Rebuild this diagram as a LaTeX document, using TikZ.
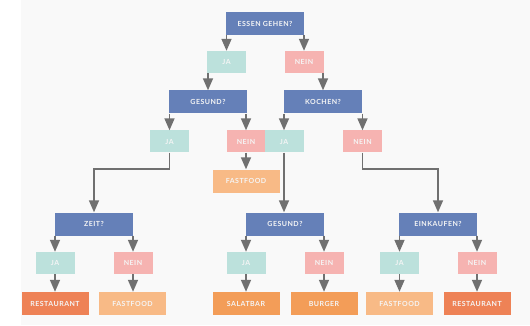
\documentclass[tikz,border=0pt]{standalone}
\usepackage{fontspec}
\newfontfamily\boxfont[LetterSpace=7]{Lato}
\usetikzlibrary{arrows.meta}
\usepackage{xcolor}

\definecolor{askblue}{HTML}{6580B8}
\definecolor{yesteal}{HTML}{BCE1DC}
\definecolor{nopink}{HTML}{F6B3B1}
\definecolor{ffpeach}{HTML}{F8BA86}
\definecolor{eatorange}{HTML}{F39D58}
\definecolor{restred}{HTML}{EE8256}
\definecolor{arrgray}{HTML}{707070}
\definecolor{bggray}{HTML}{F9F9F9}

\begin{document}
\begin{tikzpicture}[x=1pt,y=-1pt,
  every node/.style={inner sep=0pt,text=white!92!gray,font=\boxfont\bfseries\fontsize{7}{8}\selectfont},
  ask/.style={fill=askblue,minimum width=78pt,minimum height=23pt},
  yes/.style={fill=yesteal,minimum width=39pt,minimum height=22pt},
  no/.style={fill=nopink,minimum width=39pt,minimum height=22pt},
  goal/.style={minimum width=67pt,minimum height=23pt},
  arr/.style={draw=arrgray,line width=1.6pt,-{Triangle[width=10pt,length=12pt]}}]

% Canvas and background
\useasboundingbox (0,0) rectangle (530,326);
\fill[bggray] (21,0) rectangle (530,325);

% Level 1: root question
\node[ask] (essen) at (265,23.5) {ESSEN GEHEN?};
\node[yes] (ja1)  at (226.5,62) {JA};
\node[no]  (nein1) at (304,62) {NEIN};

% Level 2: follow-up questions
\node[ask] (gesund) at (208,102) {GESUND?};
\node[ask] (kochen) at (323,102) {KOCHEN?};
\node[yes] (ja2)   at (169.5,141.5) {JA};
\node[no]  (nein2) at (246,141.5) {NEIN};
\node[yes] (ja3)   at (284,141.5) {JA};
\node[no]  (nein3) at (362.5,141.5) {NEIN};
\node[goal,fill=ffpeach] (ff1) at (246,181) {FASTFOOD};

% Level 3: last questions
\node[ask] (zeit)      at (94,224)  {ZEIT?};
\node[ask] (gesundb)   at (285,224) {GESUND?};
\node[ask] (einkaufen) at (438,224) {EINKAUFEN?};
\node[yes] (ja4)   at (55,263)    {JA};
\node[no]  (nein4) at (133,263)   {NEIN};
\node[yes] (ja5)   at (246,263)   {JA};
\node[no]  (nein5) at (324,263)   {NEIN};
\node[yes] (ja6)   at (399.5,263) {JA};
\node[no]  (nein6) at (477,263)   {NEIN};

% Outcomes
\node[goal,fill=restred]   (rest1)  at (55,303.5)    {RESTAURANT};
\node[goal,fill=ffpeach]   (ff2)    at (132.5,303.5) {FASTFOOD};
\node[goal,fill=eatorange] (salat)  at (246,303.5)   {SALATBAR};
\node[goal,fill=eatorange] (burger) at (324,303.5)   {BURGER};
\node[goal,fill=ffpeach]   (ff3)    at (399.5,303.5) {FASTFOOD};
\node[goal,fill=restred]   (rest2)  at (477,303.5)   {RESTAURANT};

% Connectors
\draw[arr] (essen.south -| ja1.north) -- (ja1.north);
\draw[arr] (essen.south -| nein1.north) -- (nein1.north);
\draw[arr] (ja1.south -| gesund.north) -- (gesund.north);
\draw[arr] (nein1.south -| kochen.north) -- (kochen.north);

\draw[arr] (gesund.south -| ja2.north) -- (ja2.north);
\draw[arr] (gesund.south -| nein2.north) -- (nein2.north);
\draw[arr] (kochen.south -| ja3.north) -- (ja3.north);
\draw[arr] (kochen.south -| nein3.north) -- (nein3.north);
\draw[arr] (nein2.south) -- (ff1.north);

\draw[arr] (ja2.south) -- ++(0,16) -| (zeit.north);
\draw[arr] (ja3.south) -- (ja3.south |- gesundb.north);
\draw[arr] (nein3.south) -- ++(0,16) -| (einkaufen.north);

\foreach \q/\a/\b in {zeit/ja4/nein4, gesundb/ja5/nein5, einkaufen/ja6/nein6}{
  \draw[arr] (\q.south -| \a.north) -- (\a.north);
  \draw[arr] (\q.south -| \b.north) -- (\b.north);
}

\foreach \a/\g in {ja4/rest1, nein4/ff2, ja5/salat, nein5/burger, ja6/ff3, nein6/rest2}
  \draw[arr] (\a.south) -- (\a.south |- \g.north);

\end{tikzpicture}
\end{document}
